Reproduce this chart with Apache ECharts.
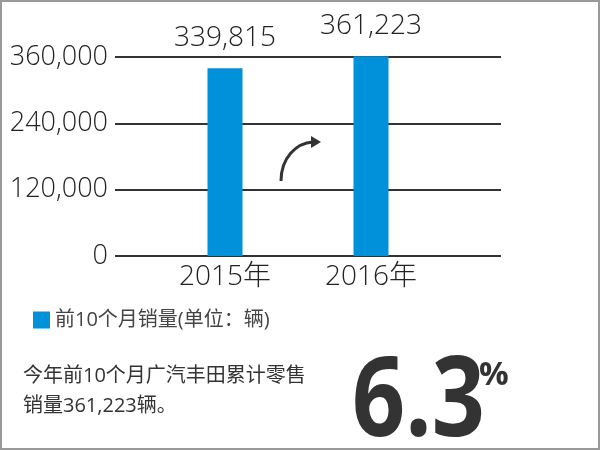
<!DOCTYPE html>
<html>
<head>
<meta charset="utf-8">
<script src="https://cdn.jsdelivr.net/npm/echarts@6/dist/echarts.min.js"></script>
<style>html,body{margin:0;padding:0;background:#fff}#c{width:600px;height:450px}</style>
</head>
<body>
<div id="c"></div>
<script>
const categories = ['2015年', '2016年'];
const sales = [339815, 361223];
const yTicks = [0, 120000, 240000, 360000];
const seriesName = '前10个月销量(单位：辆)';
const noteLines = ['今年前10个月广汽丰田累计零售', '销量361,223辆。'];
const growthValue = '6.3';
const growthUnit = '%';

const LATIN = '"Open Sans", "Noto Sans CJK SC", sans-serif';
const fmt = v => Number(v).toLocaleString('en-US');

const chart = echarts.init(document.getElementById('c'), null, {renderer: 'canvas'});
chart.setOption({
  backgroundColor: '#fff',
  animation: false,
  grid: [
    {left: 115, right: 99, top: 57, bottom: 194},
    {left: 152, right: 156, top: 57, bottom: 194}
  ],
  xAxis: [
    {gridIndex: 0, type: 'category', data: categories, show: false},
    {gridIndex: 1, type: 'category', data: categories,
     axisLine: {show: false}, axisTick: {show: false},
     axisLabel: {fontSize: 28, color: '#222', margin: 7, fontFamily: LATIN, fontWeight: 300}}
  ],
  yAxis: [
    {gridIndex: 0, type: 'value', min: yTicks[0], max: yTicks[yTicks.length - 1], interval: yTicks[1] - yTicks[0],
     axisLine: {show: false}, axisTick: {show: false},
     axisLabel: {fontSize: 27, color: '#222', margin: 7, fontFamily: LATIN, fontWeight: 300, formatter: v => fmt(v)},
     splitLine: {lineStyle: {color: '#333', width: 2}}},
    {gridIndex: 1, type: 'value', min: yTicks[0], max: yTicks[yTicks.length - 1], show: false, splitLine: {show: false}}
  ],
  legend: {
    left: 28, top: 305, icon: 'rect', itemWidth: 17, itemHeight: 17, itemGap: 10,
    textStyle: {fontSize: 20, color: '#444', fontFamily: LATIN},
    data: [seriesName]
  },
  series: [{
    name: seriesName, type: 'bar', xAxisIndex: 1, yAxisIndex: 1,
    data: sales, barWidth: 35, clip: false,
    itemStyle: {color: '#0091db'},
    label: {show: true, position: 'top', distance: 16, fontSize: 28, color: '#222',
            fontFamily: LATIN, fontWeight: 300, formatter: p => fmt(p.value)}
  }],
  graphic: [
    {type: 'rect', shape: {x: 1, y: 1, width: 598, height: 448},
     style: {fill: 'none', stroke: '#999', lineWidth: 2}, silent: true},
    {type: 'bezierCurve', shape: {x1: 281, y1: 181, cpx1: 281, cpy1: 158, cpx2: 296, cpy2: 143, x2: 313, y2: 142},
     style: {stroke: '#333', lineWidth: 3, fill: 'none'}},
    {type: 'polygon', shape: {points: [[311, 136], [321, 142], [311, 148]]}, style: {fill: '#333'}},
    {type: 'text', x: 23, y: 366, style: {text: noteLines[0], fontSize: 20, fill: '#333', fontFamily: LATIN}},
    {type: 'text', x: 23, y: 396, style: {text: noteLines[1], fontSize: 20, fill: '#333', fontFamily: LATIN}},
    {type: 'text', x: 352, y: 348, scaleX: 0.83, style: {text: growthValue, fontSize: 112, fontWeight: 'bold', fill: '#333', fontFamily: LATIN}},
    {type: 'text', x: 479, y: 359, style: {text: growthUnit, fontSize: 33, fontWeight: 'bold', fill: '#333', fontFamily: LATIN}}
  ]
});
</script>
</body>
</html>
